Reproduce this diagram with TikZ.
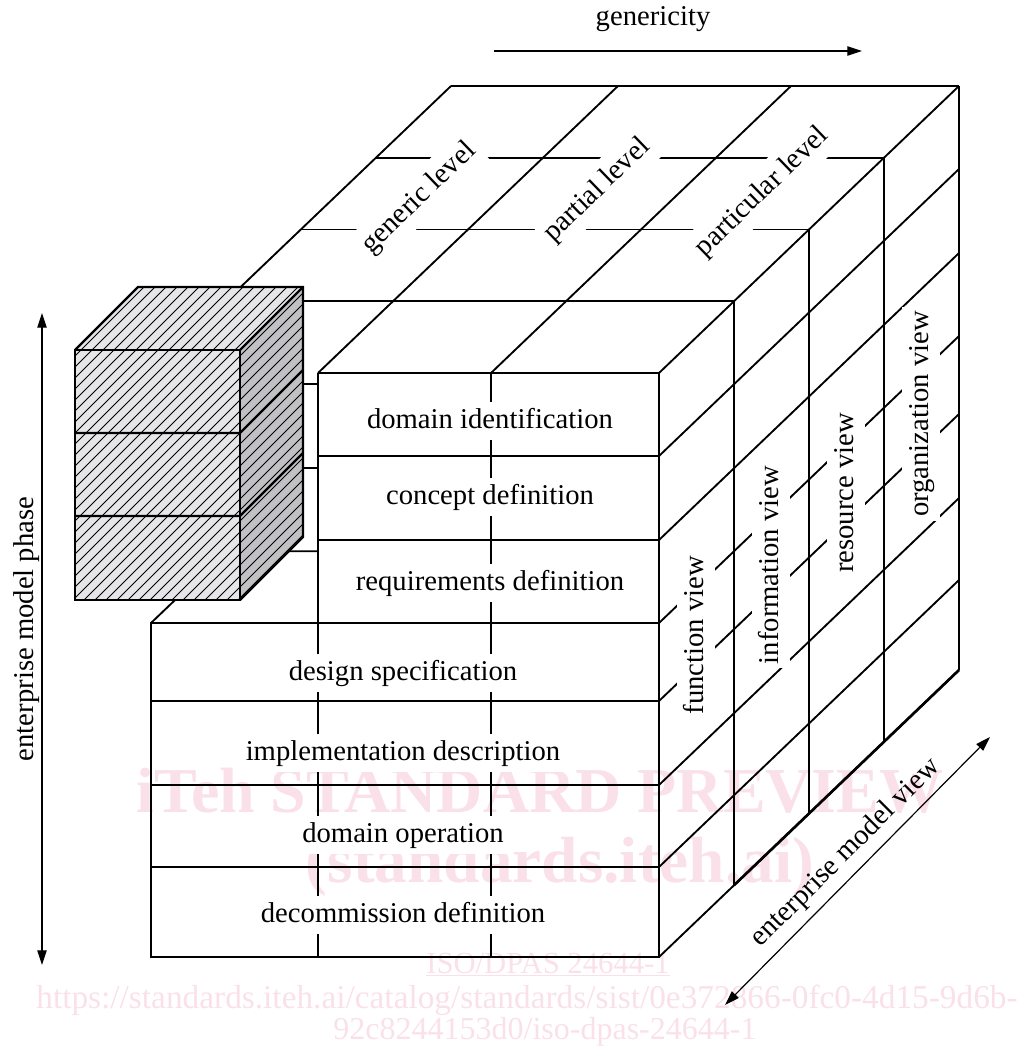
\documentclass[tikz,border=0pt]{standalone}
\usepackage{fontspec}
\setmainfont{Liberation Serif}
\usetikzlibrary{arrows.meta}

\definecolor{wmark}{RGB}{250,225,233}
\definecolor{hatchlight}{RGB}{230,230,232}
\definecolor{hatchdark}{RGB}{193,193,197}

\tikzset{
  cube/.style={line width=1.4pt, line join=miter},
  labeltext/.style={font=\fontsize{21.5}{26}\selectfont, inner sep=0pt},
  phasebox/.style={fill=white, inner xsep=3pt, inner ysep=3.5pt, text height=16pt, text depth=5pt, font=\fontsize{21.5}{26}\selectfont},
  axis/.style={line width=0.9pt, {Triangle[length=11pt,width=7pt]}-{Triangle[length=11pt,width=7pt]}},
  hatchline/.style={line width=0.6pt},
}

\begin{document}
\begin{tikzpicture}[x=0.75pt,y=-0.75pt]
\useasboundingbox (0,0) rectangle (1016,1048);

% watermark of the preview copy
\begin{scope}[wmark]
\node[anchor=base, inner sep=0pt, font=\fontsize{48}{50}\selectfont\bfseries] (wm1) at (540,812) {iTeh STANDARD PREVIEW};
\node[anchor=base, inner sep=0pt, font=\fontsize{49}{51}\selectfont\bfseries] (wm2) at (560,882) {(standards.iteh.ai)};
\node[anchor=base, inner sep=0pt, font=\fontsize{23}{25}\selectfont] (wm3) at (548,973) {\underline{ISO/DPAS 24644-1}};
\node[anchor=base, inner sep=0pt, font=\fontsize{25}{27}\selectfont] (wm4) at (527,1008) {https://standards.iteh.ai/catalog/standards/sist/0e372866-0fc0-4d15-9d6b-};
\node[anchor=base, inner sep=0pt, font=\fontsize{24}{26}\selectfont] (wm5) at (545,1039) {92c8244153d0/iso-dpas-24644-1};
\end{scope}

% top face
\draw[cube] (451,86) -- (959,86);
\draw[cube] (226,301) -- (451,86);
\draw[cube] (318,373) -- (618,86);
\draw[cube] (491,373) -- (791,86);
\draw[cube] (659,373) -- (959,86);
\foreach \d in {1,2,3}
  \draw[cube] (151+75*\d,373-71.75*\d) -- (659+75*\d,373-71.75*\d);

% right face
\foreach \d in {1,2,3,4}
  \draw[cube] (659+75*\d,373-71.75*\d) -- (659+75*\d,957-71.75*\d);
\foreach \y in {456,540,623,701,785,867,957}
  \draw[cube] (659,\y) -- ++(300,-287);
\draw[line width=2pt] (734,885.25) -- (959,670);

% front face
\draw[cube] (318,373) -- (659,373) -- (659,957) -- (151,957) -- (151,623) -- (659,623);
\draw[cube] (318,373) -- (318,957);
\draw[cube] (491,373) -- (491,957);
\foreach \y in {456,540}
  \draw[cube] (318,\y) -- (659,\y);
\foreach \y in {701,785,867}
  \draw[cube] (151,\y) -- (659,\y);

% the taken out block leaves this
\draw[cube] (151,623) -- (226,551.25) -- (318,551.25);
\draw[cube] (226,301) -- (226,551.25);
\foreach \y in {384.25,468.25}
  \draw[cube] (226,\y) -- (318,\y);

% phases
\node[phasebox] (ident) at (490,421) {domain identification};
\node[phasebox] (concept) at (490,497) {concept definition};
\node[phasebox] (require) at (490,583) {requirements definition};
\node[phasebox] (design) at (403,673) {design specification};
\node[phasebox] (implement) at (403,753) {implementation description};
\node[phasebox] (operate) at (403,835) {domain operation};
\node[phasebox] (decom) at (403,915) {decommission definition};

% views
\node[phasebox, rotate=90] (function) at (696,635) {function view};
\node[phasebox, rotate=90] (information) at (771,565) {information view};
\node[phasebox, rotate=90] (resource) at (846,493) {resource view};
\node[phasebox, rotate=90] (organization) at (921,414) {organization view};

% levels
\node[phasebox, rotate=44, inner ysep=5pt] (generic) at (419,198) {generic level};
\node[phasebox, rotate=44, inner ysep=5pt] (partial) at (597,190) {partial level};
\node[phasebox, rotate=44, inner ysep=5pt] (particular) at (762,192) {particular level};

% hatched block
\fill[hatchlight] (75,350) rectangle (240,600);
\fill[hatchlight] (75,350) -- (138,287) -- (303,287) -- (240,350) -- cycle;
\fill[hatchdark] (240,350) -- (303,287) -- (303,537) -- (240,600) -- cycle;
\begin{scope}
\clip (75,600) -- (75,350) -- (138,287) -- (303,287) -- (303,537) -- (240,600) -- cycle;
\foreach \c in {420,431,...,850}
  \draw[hatchline] (\c,0) -- ++(-700,700);
\end{scope}
\draw[line width=1.6pt] (75,350) rectangle (240,600);
\draw[line width=1.6pt, line join=miter] (75,350) -- (138,287) -- (303,287) -- (303,537) -- (240,600);
\draw[line width=1.6pt] (240,350) -- (303,287);
\foreach \y in {433,516}
  \draw[line width=1.6pt] (75,\y) -- (240,\y) -- ++(63,-63);

% axes
\coordinate (phasetop) at (42,313);
\coordinate (phasebot) at (42,965);
\draw[axis] (phasebot) -- (phasetop);
\node[labeltext, rotate=90] (phase) at (27,629) {enterprise model phase};

\coordinate (genstart) at (494,51);
\coordinate (genend) at (862,51);
\draw[line width=0.9pt, -{Triangle[length=11pt,width=7pt]}] (genstart) -- (genend);
\node[labeltext] (genericity) at (653,19) {genericity};

\coordinate (viewfront) at (725,1005);
\coordinate (viewback) at (990,737);
\draw[axis] (viewfront) -- (viewback);
\node[labeltext, rotate=45] (view) at (846,853) {enterprise model view};

\end{tikzpicture}
\end{document}
